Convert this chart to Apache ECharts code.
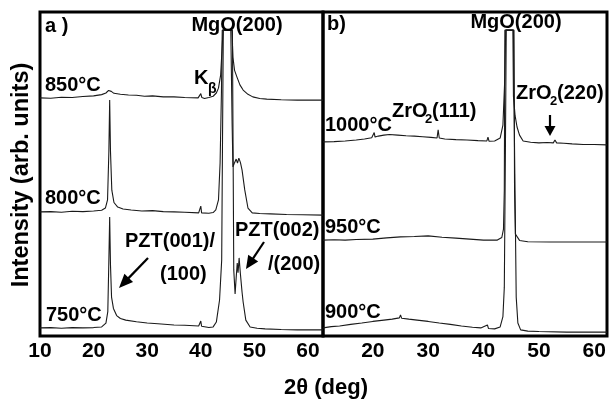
<!DOCTYPE html>
<html><head><meta charset="utf-8">
<script src="https://cdn.jsdelivr.net/npm/echarts@6/dist/echarts.min.js"></script>
<style>html,body{margin:0;padding:0;background:#fff}#c{width:610px;height:400px}</style>
</head><body><div id="c"></div>
<script>
// tick labels
const ticksA = [10, 20, 30, 40, 50, 60];
const ticksB = [20, 30, 40, 50, 60];
// panel a) series: [2theta, intensity (arb.)]
const s850 = [[10,73.5],[12,73.4],[14,73.7],[16,73.6],[18,73.9],[20,74.1],[21.5,74.5],[22.3,75.0],[22.8,75.8],[23.0,76.3],[23.3,75.5],[23.8,74.9],[25,74.6],[26.5,74.4],[28,74.3],[29.5,74.0],[31,74.1],[33,73.8],[35,73.8],[37,73.6],[39.5,73.5],[39.8,73.6],[40,74.8],[40.2,73.6],[40.7,73.3],[41.5,73.6],[42.3,74.0],[42.9,75.0],[43.3,76.5],[43.7,80.5],[43.95,88],[44.15,94.4],[45.8,94.4],[46.0,86],[46.3,82],[46.75,79.9],[47.3,77.5],[47.9,75.9],[48.8,74.6],[49.7,73.8],[51,73.3],[52.3,73.1],[55,72.9],[58,72.8],[62.8,72.8]];
const s800 = [[10,38.3],[12,38.4],[14,38.2],[16,38.5],[18,38.4],[20,38.6],[21.5,38.8],[22.2,39.5],[22.6,42.0],[22.85,57],[23.0,72.8],[23.15,57],[23.4,45],[23.8,41.2],[24.5,39.8],[25.5,39.2],[27,38.9],[29,38.6],[31,38.7],[33,38.4],[35,38.3],[37,38.2],[39.6,38.0],[39.9,38.2],[40.0,40.1],[40.15,38.0],[40.5,37.7],[41.5,37.9],[42.3,38.1],[42.8,38.9],[43.3,42.0],[43.6,53.4],[43.85,75],[44.0,94.4],[45.6,94.4],[45.85,65],[46.0,52.2],[46.3,53.5],[46.6,54.6],[46.85,53.4],[47.1,54.9],[47.4,53.5],[47.7,51.2],[48.2,45.1],[48.8,39.5],[49.6,38.0],[51,37.8],[53,37.7],[56,37.5],[59,37.4],[62.8,37.3]];
const s750 = [[10,2.5],[12,2.6],[14,2.4],[16,2.6],[18,2.5],[20,2.6],[21.5,2.8],[22.3,4.0],[22.65,7.5],[22.85,23.5],[23.0,36.7],[23.15,22],[23.35,12],[23.7,8.5],[24.3,6.3],[25,5.4],[26,4.9],[28,4.4],[30,4.0],[32,3.8],[35,3.4],[37,3.3],[39.6,3.1],[39.9,3.2],[40.0,4.6],[40.15,3.0],[40.5,2.5],[41.5,2.6],[42.3,2.8],[42.9,4.3],[43.5,11.1],[43.9,23.5],[44.05,60],[44.2,94.4],[45.9,94.4],[46.05,50],[46.15,20.4],[46.4,13.0],[46.6,18],[46.8,22.5],[46.95,19.5],[47.15,24.1],[47.4,19],[47.7,13.5],[47.9,10.5],[48.4,4.9],[49.2,2.8],[50.5,2.4],[52,2.2],[55,2.0],[58,1.9],[62.8,1.9]];
// panel b) series
const s1000 = [[11,59.9],[13,60.0],[15,60.2],[17,60.5],[18.5,60.8],[19.8,61.2],[20.1,61.3],[20.25,62.8],[20.4,61.4],[21,61.7],[22,62.0],[23,62.2],[24.5,62.0],[26,61.8],[27.5,61.7],[29,61.5],[30.5,61.3],[31.6,61.1],[31.8,63.6],[32.0,61.1],[33,60.8],[35,60.6],[37,60.5],[39,60.3],[40.6,60.2],[40.8,61.4],[41.0,60.1],[42,60.2],[43.0,61.1],[43.5,65.1],[43.85,80],[44.0,94.4],[45.3,94.4],[45.4,74],[45.7,68],[46.05,64.5],[46.5,62],[47.15,60.2],[48.5,59.8],[50,59.6],[51.5,59.7],[52.6,59.6],[52.9,60.5],[53.2,59.6],[54.5,59.5],[56,59.3],[58,59.1],[60,59.1],[62.3,59.0]];
const s950 = [[11,29.6],[13,29.7],[15,29.6],[17,29.8],[20,29.9],[22.5,30.3],[25,30.6],[27.5,30.7],[30,30.9],[32.5,30.5],[35,30.2],[37.5,29.9],[40,29.6],[42.5,29.6],[43.3,30.4],[43.6,33],[43.75,45],[43.85,94.4],[45.5,94.4],[45.6,45],[45.75,31.5],[46.5,29.5],[48,29.1],[52,29.0],[56,29.0],[62.3,29.0]];
const s900 = [[11,2.5],[12.5,2.9],[14,3.1],[16,3.6],[18,4.0],[20,4.5],[22,4.9],[23.5,5.2],[24.8,5.6],[25.0,6.5],[25.2,5.5],[26.5,5.2],[28,4.9],[30,4.5],[32,4.0],[34,3.6],[36,3.1],[38,2.7],[39.5,2.5],[40.7,3.4],[40.9,2.3],[42,2.2],[43.0,2.8],[43.5,6],[43.75,15],[43.95,57.4],[44.1,94.4],[45.4,94.4],[45.6,57.4],[45.9,12],[46.2,4],[46.7,1.9],[48,1.5],[50,1.4],[55,1.2],[62.3,1.2]];

const FONT = '"Liberation Sans", Arial, Helvetica, sans-serif';
const chart = echarts.init(document.getElementById('c'), null, {renderer: 'canvas'});

function txt(text, x, y, size, align) {
  return {type: 'text', x: x, y: y, z: 100,
    style: {text: text, font: 'bold ' + size + 'px ' + FONT, fill: '#000',
      textAlign: align || 'left', textVerticalAlign: 'middle'}};
}
function arrow(x1, y1, x2, y2, hl, hw) {
  const dx = x2 - x1, dy = y2 - y1, L = Math.sqrt(dx*dx + dy*dy);
  const ux = dx / L, uy = dy / L, px = -uy, py = ux;
  const bx = x2 - ux*hl, by = y2 - uy*hl;
  return [
    {type: 'line', z: 100, shape: {x1: x1, y1: y1, x2: bx + ux*2, y2: by + uy*2}, style: {stroke: '#000', lineWidth: 2.2}},
    {type: 'polygon', z: 100, shape: {points: [[x2, y2], [bx + px*hw, by + py*hw], [bx - px*hw, by - py*hw]]}, style: {fill: '#000'}}
  ];
}

function lineSeries(data, idx) {
  return {type: 'line', data: data, xAxisIndex: idx, yAxisIndex: idx, showSymbol: false, symbol: 'none',
    smooth: false, clip: true, lineStyle: {color: '#1a1a1a', width: 1.1}, silent: true};
}

const axisLabelStyle = {fontSize: 21, fontWeight: 'bold', color: '#000', fontFamily: FONT, margin: 5, hideOverlap: false};

const option = {
  animation: false,
  backgroundColor: '#fff',
  grid: [
    {left: 40, top: 12, width: 283, height: 324, show: true, borderColor: '#000', borderWidth: 3, backgroundColor: 'transparent'},
    {left: 323, top: 12, width: 284, height: 324, show: true, borderColor: '#000', borderWidth: 3, backgroundColor: 'transparent'}
  ],
  xAxis: [
    {type: 'value', gridIndex: 0, min: 10, max: 62.8, axisLine: {show: false}, axisTick: {show: false}, splitLine: {show: false},
      axisLabel: Object.assign({customValues: ticksA,
        formatter: v => (ticksA.indexOf(v) >= 0 ? String(v) : '')}, axisLabelStyle)},
    {type: 'value', gridIndex: 1, min: 11, max: 62.3, axisLine: {show: false}, axisTick: {show: false}, splitLine: {show: false},
      axisLabel: Object.assign({customValues: ticksB,
        formatter: v => (ticksB.indexOf(v) >= 0 ? String(v) : '')}, axisLabelStyle)}
  ],
  yAxis: [
    {type: 'value', gridIndex: 0, min: 0, max: 100, show: false},
    {type: 'value', gridIndex: 1, min: 0, max: 100, show: false}
  ],
  series: [
    lineSeries(s850, 0), lineSeries(s800, 0), lineSeries(s750, 0),
    lineSeries(s1000, 1), lineSeries(s950, 1), lineSeries(s900, 1)
  ],
  graphic: [
    // panel a
    txt('a )', 45, 26, 20),
    txt('MgO(200)', 237, 25, 20, 'center'),
    txt('850°C', 45, 85, 20),
    txt('K', 194, 78, 20),
    txt('β', 208, 89, 14),
    txt('800°C', 45, 198, 20),
    txt('750°C', 46, 315, 20),
    txt('PZT(001)/', 125, 241, 20),
    txt('(100)', 160, 274, 20),
    txt('PZT(002)', 235, 230, 20),
    txt('/(200)', 268, 264, 20),
    ...arrow(148, 258, 119, 288, 14, 6),
    ...arrow(264, 242, 246, 269, 13, 6),
    // panel b
    txt('b)', 327, 24, 20),
    txt('MgO(200)', 516, 22, 20, 'center'),
    txt('1000°C', 325, 125, 20),
    txt('ZrO', 392, 111, 20),
    txt('2', 425, 119, 13),
    txt('(111)', 432, 111, 20),
    txt('ZrO', 516, 93, 20),
    txt('2', 550, 101, 13),
    txt('(220)', 557, 93, 20),
    ...arrow(550, 115, 550, 136, 10, 5.5),
    txt('950°C', 325, 227, 20),
    txt('900°C', 325, 312, 20),
    // axis titles
    txt('2θ (deg)', 326, 388, 22, 'center'),
    {type: 'text', x: 22, y: 175, rotation: Math.PI / 2, z: 100,
      style: {text: 'Intensity (arb. units)', font: 'bold 23.5px ' + FONT, fill: '#000', textAlign: 'center', textVerticalAlign: 'middle'}}
  ]
};
chart.setOption(option);
</script>
</body></html>
